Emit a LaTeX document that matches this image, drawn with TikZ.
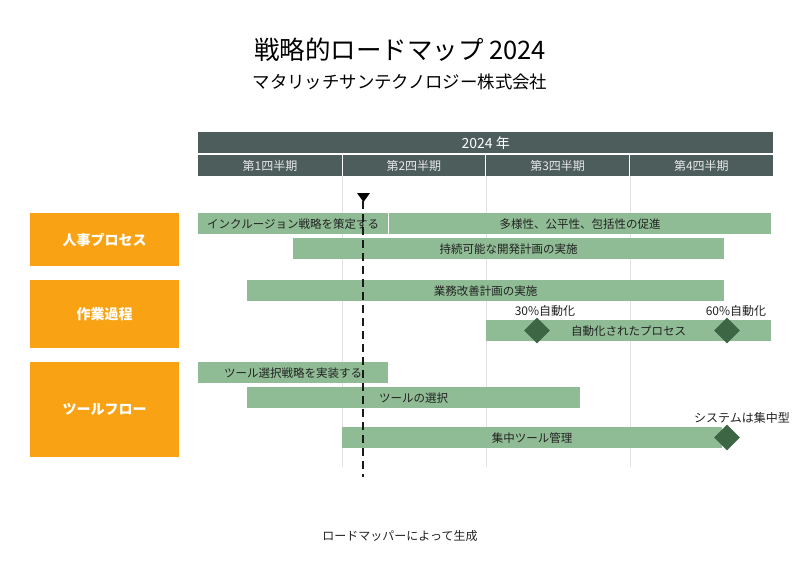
\documentclass[tikz,border=0pt]{standalone}
\usepackage{fontspec}
\setmainfont{Noto Sans CJK JP}
\usetikzlibrary{shapes.geometric}
\definecolor{hdr}{HTML}{4D5D5C}
\definecolor{barg}{HTML}{8FBC94}
\definecolor{mile}{HTML}{3D6645}
\definecolor{orng}{HTML}{F9A314}
\definecolor{grid}{HTML}{E2E2E2}
\definecolor{qtxt}{HTML}{E6E6E6}
\definecolor{btxt}{HTML}{222222}
\tikzset{
  barbox/.style={fill=barg, inner sep=0pt, minimum height=21pt, anchor=north west, font=\fontsize{11.5}{12}\selectfont, text=btxt},
  lanebox/.style={fill=orng, inner sep=0pt, minimum width=149pt, anchor=north west, text=white, font=\fontsize{14}{15}\selectfont\bfseries},
  qcell/.style={fill=hdr, inner sep=0pt, minimum width=143.75pt, minimum height=21pt, anchor=north west, text=qtxt, font=\fontsize{12}{13}\selectfont},
  milestone/.style={diamond, fill=mile, inner sep=0pt, minimum width=26pt, minimum height=26pt},
  mlabel/.style={font=\fontsize{12}{13}\selectfont, text=btxt, inner sep=0pt},
  gridline/.style={draw=grid, line width=0.8pt},
}
\begin{document}
\begin{tikzpicture}[x=1pt,y=-1pt]
\useasboundingbox (0,0) rectangle (800,573);
% titles
\node[font=\fontsize{25.5}{27}\selectfont, text=black] (title) at (400,50) {戦略的ロードマップ 2024};
\node[font=\fontsize{17.4}{19}\selectfont, text=black] (subtitle) at (400,82) {マタリッチサンテクノロジー株式会社};
\node[font=\fontsize{12}{13}\selectfont, text=btxt] (footer) at (400,536) {ロードマッパーによって生成};
% header
\node[fill=hdr, inner sep=0pt, minimum width=575pt, minimum height=21pt, anchor=north west, text=white, font=\fontsize{14}{15}\selectfont] (year) at (198,132) {2024 年};
\node[qcell] (q1) at (198,155) {第1四半期};
\node[qcell] (q2) at (341.75,155) {第2四半期};
\node[qcell] (q3) at (485.5,155) {第3四半期};
\node[qcell] (q4) at (629.25,155) {第4四半期};
\draw[white, line width=1pt] (q1.north east) -- (q1.south east);
\draw[white, line width=1pt] (q2.north east) -- (q2.south east);
\draw[white, line width=1pt] (q3.north east) -- (q3.south east);
% gridlines
\coordinate (g1a) at (342,176); \coordinate (g1b) at (342,467);
\coordinate (g2a) at (486,176); \coordinate (g2b) at (486,467);
\coordinate (g3a) at (630,176); \coordinate (g3b) at (630,467);
\draw[gridline] (g1a) -- (g1b);
\draw[gridline] (g2a) -- (g2b);
\draw[gridline] (g3a) -- (g3b);
% lanes
\node[lanebox, minimum height=53pt] (lane1) at (30,213) {人事プロセス};
\node[lanebox, minimum height=68pt] (lane2) at (30,280) {作業過程};
\node[lanebox, minimum height=95pt] (lane3) at (30,362) {ツールフロー};
% bars
\node[barbox, minimum width=190pt] (b1) at (198,213) {インクルージョン戦略を策定する};
\node[barbox, minimum width=382pt] (b2) at (389,213) {多様性、公平性、包括性の促進};
\node[barbox, minimum width=431pt] (b3) at (293,238) {持続可能な開発計画の実施};
\node[barbox, minimum width=477pt] (b4) at (247,280) {業務改善計画の実施};
\node[barbox, minimum width=285pt] (b5) at (486,320) {自動化されたプロセス};
\node[barbox, minimum width=190pt] (b6) at (198,362) {ツール選択戦略を実装する};
\node[barbox, minimum width=333pt] (b7) at (247,387) {ツールの選択};
\node[barbox, minimum width=380pt] (b8) at (342,427) {集中ツール管理};
% milestones
\node[milestone] (m1) at (537,330.5) {};
\node[milestone] (m2) at (727,330.5) {};
\node[milestone] (m3) at (727,437.5) {};
\node[mlabel] (m1l) at (545,311) {30\%自動化};
\node[mlabel] (m2l) at (736,311) {60\%自動化};
\node[mlabel] (m3l) at (742,418) {システムは集中型};
% today marker
\coordinate (tA) at (357,193); \coordinate (tB) at (370,193); \coordinate (tC) at (363.5,202);
\fill[black] (tA) -- (tB) -- (tC) -- cycle;
\coordinate (today) at (363,201); \coordinate (todayend) at (363,477);
\draw[black!90, line width=2pt, dash pattern=on 8pt off 5pt] (today) -- (todayend);
\end{tikzpicture}
\end{document}
